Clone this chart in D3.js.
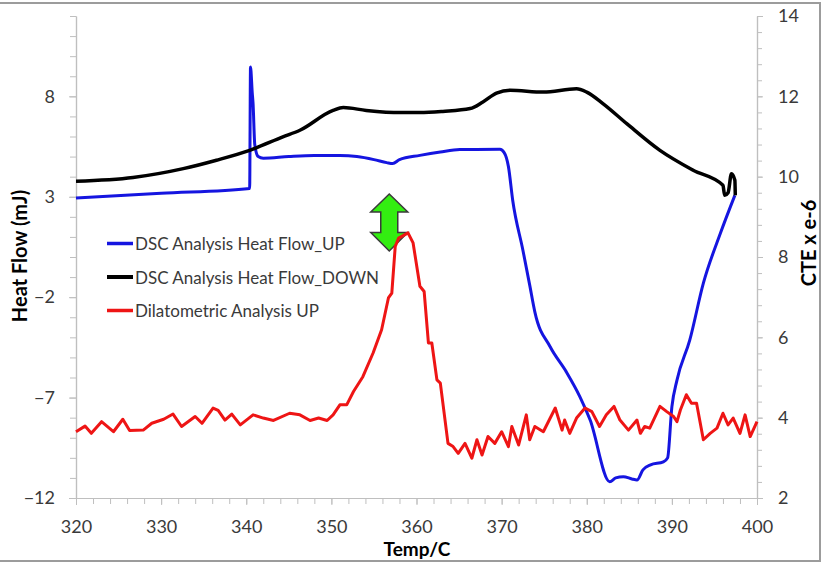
<!DOCTYPE html>
<html>
<head>
<meta charset="utf-8">
<script src="https://cdn.jsdelivr.net/npm/d3@7"></script>
<style>
  html, body { margin: 0; padding: 0; background: #fff; }
  svg { display: block; font-family: Lato, "Open Sans", sans-serif; }
</style>
</head>
<body>
<svg id="chart" width="825" height="568"></svg>
<script>
// Temperature (C) vs DSC heat flow (mJ) on heating
const dscUpTemp = [320, 330, 340.4, 340.5, 340.7, 340.8, 341.0, 341.4, 342, 345, 348, 351, 353, 355, 356.5, 357.2, 358, 360.4, 362.8, 365.1, 369.8, 370.3, 370.8, 371.3, 372.5, 373.3, 373.9, 375.7, 377.6, 379.2, 380.4, 382.7, 383.4, 384.3, 385.3, 385.9, 386.6, 387.5, 389, 389.5, 390, 390.6, 392.1, 393.7, 395.7, 397.4];
const dscUpFlow = [2.94, 3.17, 3.41, 9.46, 8.2, 7.65, 5.6, 5.0, 4.92, 5.0, 5.05, 5.05, 5.0, 4.85, 4.7, 4.65, 4.85, 5.06, 5.23, 5.35, 5.36, 5.2, 4.5, 2.83, 0.34, -1.4, -2.73, -4.47, -5.72, -6.96, -8.12, -11.19, -11.0, -10.94, -11.05, -11.1, -10.6, -10.35, -10.2, -10.0, -7.46, -6.13, -4.14, -1.3, 1.18, 3.07];

// Temperature (C) vs DSC heat flow (mJ) on cooling
const dscDownTemp = [320, 326.7, 332.6, 336.5, 340.4, 344.3, 346.3, 350.2, 351.4, 354.1, 358.1, 360.4, 363.1, 366.3, 367.8, 369.4, 371, 374.9, 378.8, 380, 381.9, 384.7, 388.6, 392.5, 396, 396.2, 396.6, 397.0, 397.4, 397.45];
const dscDownFlow = [3.77, 3.96, 4.40, 4.82, 5.31, 5.98, 6.31, 7.30, 7.44, 7.30, 7.19, 7.19, 7.25, 7.39, 7.72, 8.16, 8.30, 8.21, 8.38, 8.21, 7.64, 6.64, 5.31, 4.32, 3.57, 3.07, 3.2, 4.15, 3.82, 3.07];

// Temperature (C) vs coefficient of thermal expansion (x 1e-6)
const dilTemp = [320, 321.06, 321.8, 323.0, 324.4, 325.5, 326.3, 327.9, 328.9, 330.3, 331.4, 332.4, 334.0, 334.8, 336.1, 336.7, 337.5, 338.3, 339.3, 340.8, 342.0, 343.2, 345.1, 346.3, 347.5, 348.5, 349.5, 350.2, 351.0, 351.8, 352.6, 353.7, 354.9, 355.9, 356.7, 357.1, 357.5, 357.9, 359.0, 359.6, 360.4, 360.9, 361.4, 361.8, 362.4, 362.8, 363.7, 364.3, 364.9, 365.7, 366.5, 367.1, 367.7, 368.4, 369.2, 370.0, 370.8, 371.2, 372.0, 372.9, 373.3, 373.9, 374.9, 376.3, 377.1, 377.4, 378.0, 378.8, 379.8, 380.6, 381.5, 382.3, 383.2, 383.9, 384.9, 385.9, 386.3, 386.8, 387.4, 388.6, 389.4, 390.2, 390.6, 391.0, 391.7, 392.3, 392.9, 393.7, 394.5, 395.3, 396.0, 396.6, 397.2, 398.0, 398.6, 399.2, 400];
const dilCte = [3.65, 3.79, 3.61, 3.90, 3.65, 3.96, 3.68, 3.69, 3.86, 3.96, 4.09, 3.78, 4.03, 3.86, 4.24, 4.18, 3.94, 4.09, 3.82, 4.07, 3.99, 3.93, 4.11, 4.07, 3.93, 3.99, 3.93, 4.07, 4.32, 4.32, 4.65, 5.02, 5.61, 6.19, 6.98, 7.10, 8.26, 8.47, 8.60, 8.35, 7.27, 7.14, 5.86, 5.86, 4.94, 4.86, 3.36, 3.28, 3.11, 3.36, 2.99, 3.45, 3.07, 3.53, 3.36, 3.65, 3.28, 3.78, 3.32, 4.07, 3.45, 3.78, 3.65, 4.24, 3.69, 3.94, 3.61, 3.99, 4.24, 4.15, 3.78, 4.07, 4.28, 3.94, 3.69, 3.94, 3.61, 3.78, 3.74, 4.28, 4.15, 4.03, 3.90, 4.19, 4.57, 4.36, 4.36, 3.45, 3.61, 3.74, 4.11, 3.82, 3.99, 3.61, 4.07, 3.53, 3.90];

// Axis ticks
const tempTicks = [320, 330, 340, 350, 360, 370, 380, 390, 400];
const flowTicks = [-12, -7, -2, 3, 8];
const cteTicks = [2, 4, 6, 8, 10, 12, 14];

const seriesNames = ["DSC Analysis Heat Flow_UP", "DSC Analysis Heat Flow_DOWN", "Dilatometric Analysis UP"];
const seriesColors = ["#1515e0", "#000000", "#ee1515"];

// Peak marker (lower tip) in data units
const peakMarkTemp = 356.8;
const peakMarkCte = 8.15;

const svg = d3.select("#chart");
const plot = { left: 76, right: 757, top: 16, bottom: 498 };

const x = d3.scaleLinear().domain([320, 400]).range([plot.left, plot.right]);
const yFlow = d3.scaleLinear().domain([-12, 12]).range([plot.bottom, plot.top]);
const yCte = d3.scaleLinear().domain([2, 14]).range([plot.bottom, plot.top]);

// outer frame
svg.append("rect")
  .attr("x", -4).attr("y", 3).attr("width", 824).attr("height", 558)
  .attr("fill", "none").attr("stroke", "#9c9c9c").attr("stroke-width", 2);

const axisColor = "#bfbfbf";
const labelColor = "#3a3a3a";

function styleAxis(g) {
  g.select(".domain").attr("stroke", axisColor).attr("stroke-width", 1.2);
  g.selectAll(".tick line").attr("stroke", axisColor).attr("stroke-width", 1);
  g.selectAll(".tick text").attr("fill", labelColor).style("font-size", "18px")
    .style("font-family", "Lato, sans-serif");
}

// minor ticks
const minorTemp = d3.range(320, 400.01, 2);
const minorFlow = d3.range(-12, 12.01, 1);
const minorCte = d3.range(2, 14.01, 0.4);

svg.append("g").attr("transform", `translate(0,${plot.bottom})`)
  .call(d3.axisBottom(x).tickValues(minorTemp).tickFormat("").tickSize(6).tickSizeOuter(0))
  .call(styleAxis);
svg.append("g").attr("transform", `translate(${plot.left},0)`)
  .call(d3.axisLeft(yFlow).tickValues(minorFlow).tickFormat("").tickSize(6).tickSizeOuter(0))
  .call(styleAxis);
svg.append("g").attr("transform", `translate(${plot.right},0)`)
  .call(d3.axisRight(yCte).tickValues(minorCte).tickFormat("").tickSize(5).tickSizeOuter(0))
  .call(styleAxis);

// major ticks with labels
svg.append("g").attr("transform", `translate(0,${plot.bottom})`)
  .call(d3.axisBottom(x).tickValues(tempTicks).tickFormat(d3.format("d")).tickSize(7).tickPadding(15).tickSizeOuter(0))
  .call(styleAxis);
svg.append("g").attr("transform", `translate(${plot.left},0)`)
  .call(d3.axisLeft(yFlow).tickValues(flowTicks).tickFormat(d3.format("d")).tickSize(7).tickPadding(14).tickSizeOuter(0))
  .call(styleAxis);
svg.append("g").attr("transform", `translate(${plot.right},0)`)
  .call(d3.axisRight(yCte).tickValues(cteTicks).tickFormat(d3.format("d")).tickSize(6).tickPadding(15).tickSizeOuter(0))
  .call(styleAxis);

// axis titles
svg.append("text")
  .attr("transform", `translate(27,256) rotate(-90)`)
  .attr("text-anchor", "middle")
  .style("font-size", "20px").style("font-weight", "bold").attr("fill", "#000")
  .text("Heat Flow (mJ)");
svg.append("text")
  .attr("transform", `translate(816,243) rotate(-90)`)
  .attr("text-anchor", "middle")
  .style("font-size", "20px").style("font-weight", "bold").attr("fill", "#000")
  .text("CTE x e-6");
svg.append("text")
  .attr("x", 417).attr("y", 556)
  .attr("text-anchor", "middle")
  .style("font-size", "19px").style("font-weight", "bold").attr("fill", "#000")
  .text("Temp/C");

// peak marker: green double arrow
const ax = x(peakMarkTemp), ay = yCte(peakMarkCte);
const arrowPts = [
  [0, -57], [18.5, -39], [8.5, -39], [8.5, -18.5], [18.5, -18.5],
  [0, 0], [-18.5, -18.5], [-8.5, -18.5], [-8.5, -39], [-18.5, -39]
].map(p => [ax + p[0], ay + p[1]]);
svg.append("path")
  .attr("d", d3.line()(arrowPts) + "Z")
  .attr("fill", "#33ee11").attr("stroke", "#3a3a3a").attr("stroke-width", 1.5)
  .attr("stroke-linejoin", "miter");

// series
const lineFlow = d3.line().x(d => x(d[0])).y(d => yFlow(d[1])).curve(d3.curveMonotoneX);
const lineCte = d3.line().x(d => x(d[0])).y(d => yCte(d[1]));

svg.append("path")
  .attr("d", lineFlow(d3.zip(dscUpTemp, dscUpFlow)))
  .attr("fill", "none").attr("stroke", seriesColors[0]).attr("stroke-width", 3)
  .attr("stroke-linejoin", "round");
svg.append("path")
  .attr("d", lineFlow(d3.zip(dscDownTemp, dscDownFlow)))
  .attr("fill", "none").attr("stroke", seriesColors[1]).attr("stroke-width", 3.5)
  .attr("stroke-linejoin", "round");
svg.append("path")
  .attr("d", lineCte(d3.zip(dilTemp, dilCte)))
  .attr("fill", "none").attr("stroke", seriesColors[2]).attr("stroke-width", 3)
  .attr("stroke-linejoin", "round");

// legend
const legend = svg.append("g").attr("transform", "translate(107,243.5)");
seriesNames.forEach((name, i) => {
  const g = legend.append("g").attr("transform", `translate(0,${i * 33.5})`);
  g.append("line").attr("x1", 0).attr("x2", 26).attr("y1", 0).attr("y2", 0)
    .attr("stroke", seriesColors[i]).attr("stroke-width", i === 1 ? 4 : 3.5);
  g.append("text").attr("x", 28).attr("y", 6.5)
    .style("font-size", "17px").attr("fill", labelColor)
    .text(name);
});
</script>
</body>
</html>
